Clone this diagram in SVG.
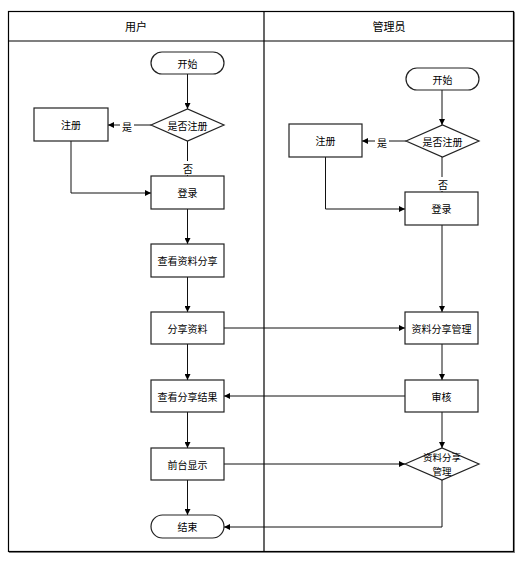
<svg xmlns="http://www.w3.org/2000/svg" width="524" height="564" viewBox="0 0 524 564">
<style>
text{font-family:"Noto Sans CJK SC","Liberation Sans",sans-serif;font-size:10px;fill:#000;text-anchor:middle;dominant-baseline:central}
.n{fill:#fff;stroke:#222;stroke-width:1.2}
.c{fill:none;stroke:#111;stroke-width:1}
.f{fill:none;stroke:#000;stroke-width:1.2}
.s{font-size:9.5px}
</style>
<defs>
<marker id="a" viewBox="0 0 10 10" refX="10" refY="5" markerWidth="6" markerHeight="6" orient="auto" markerUnits="userSpaceOnUse">
<path d="M0,0 L10,5 L0,10 z" fill="#000"/>
</marker>
</defs>
<rect width="524" height="564" fill="#fff"/>
<g id="lanes">
<path d="M9,552 H514 V12" fill="none" stroke="#888" stroke-width="2"/>
<rect x="8.5" y="11.5" width="505" height="540" class="f"/>
<line x1="8.5" y1="41" x2="513.5" y2="41" class="f"/>
<line x1="264" y1="11.5" x2="264" y2="551.5" class="f"/>
<text x="136" y="26" style="font-size:11px">用户</text>
<text x="389" y="26" style="font-size:11px">管理员</text>
</g>
<g id="connectors">
<path class="c" d="M187.5,74 V109" marker-end="url(#a)"/>
<path class="c" d="M151,125 H108" marker-end="url(#a)"/>
<path class="c" d="M187.5,141 V176" marker-end="url(#a)"/>
<path class="c" d="M71,141 V193 H151" marker-end="url(#a)"/>
<path class="c" d="M187.5,209 V244" marker-end="url(#a)"/>
<path class="c" d="M187.5,277 V312" marker-end="url(#a)"/>
<path class="c" d="M187.5,344 V380" marker-end="url(#a)"/>
<path class="c" d="M187.5,412 V448" marker-end="url(#a)"/>
<path class="c" d="M187.5,480 V515" marker-end="url(#a)"/>
<path class="c" d="M224,328 H405" marker-end="url(#a)"/>
<path class="c" d="M405,396 H224" marker-end="url(#a)"/>
<path class="c" d="M224,464 H405" marker-end="url(#a)"/>
<path class="c" d="M442,480 V527 H224" marker-end="url(#a)"/>
<path class="c" d="M442,90 V125" marker-end="url(#a)"/>
<path class="c" d="M406,141 H362" marker-end="url(#a)"/>
<path class="c" d="M442,157 V192" marker-end="url(#a)"/>
<path class="c" d="M325.5,157 V209 H405" marker-end="url(#a)"/>
<path class="c" d="M442,225 V312" marker-end="url(#a)"/>
<path class="c" d="M442,344 V380" marker-end="url(#a)"/>
<path class="c" d="M442,412 V448" marker-end="url(#a)"/>
<rect x="120" y="119" width="14" height="14" fill="#fff"/>
<text x="127" y="126">是</text>
<rect x="181" y="161" width="14" height="14" fill="#fff"/>
<text x="188" y="168">否</text>
<rect x="375" y="135" width="14" height="14" fill="#fff"/>
<text x="382" y="142">是</text>
<rect x="436" y="177" width="14" height="14" fill="#fff"/>
<text x="443" y="184">否</text>
</g>
<g id="u-start"><rect class="n" x="151" y="52" width="73" height="22" rx="11"/><text x="187.5" y="63">开始</text></g>
<g id="u-decide"><path class="n" d="M151,125 L187.5,109 L224,125 L187.5,141 z"/><text x="187.5" y="125">是否注册</text></g>
<g id="u-reg"><rect class="n" x="34" y="108" width="74" height="33"/><text x="71" y="124.5">注册</text></g>
<g id="u-login"><rect class="n" x="151" y="176" width="73" height="33"/><text x="187.5" y="192.5">登录</text></g>
<g id="u-view"><rect class="n" x="151" y="244" width="73" height="33"/><text x="187.5" y="260.5">查看资料分享</text></g>
<g id="u-share"><rect class="n" x="151" y="312" width="73" height="32"/><text x="187.5" y="328">分享资料</text></g>
<g id="u-result"><rect class="n" x="151" y="380" width="73" height="32"/><text x="187.5" y="396">查看分享结果</text></g>
<g id="u-front"><rect class="n" x="151" y="448" width="73" height="32"/><text x="187.5" y="464">前台显示</text></g>
<g id="u-end"><rect class="n" x="151" y="515" width="73" height="23" rx="11.5"/><text x="187.5" y="526.5">结束</text></g>
<g id="a-start"><rect class="n" x="406" y="68" width="73" height="22" rx="11"/><text x="442.5" y="79">开始</text></g>
<g id="a-decide"><path class="n" d="M406,141 L442.5,125 L479,141 L442.5,157 z"/><text x="442.5" y="141">是否注册</text></g>
<g id="a-reg"><rect class="n" x="289" y="124" width="73" height="33"/><text x="325.5" y="140.5">注册</text></g>
<g id="a-login"><rect class="n" x="405" y="192" width="73" height="33"/><text x="441.5" y="208.5">登录</text></g>
<g id="a-manage"><rect class="n" x="405" y="312" width="73" height="32"/><text x="441.5" y="328">资料分享管理</text></g>
<g id="a-audit"><rect class="n" x="405" y="380" width="73" height="32"/><text x="441.5" y="396">审核</text></g>
<g id="a-decide2"><path class="n" d="M405,464 L442,448 L479,464 L442,480 z"/><text class="s" x="442" y="457">资料分享</text><text class="s" x="442" y="471">管理</text></g>
</svg>
